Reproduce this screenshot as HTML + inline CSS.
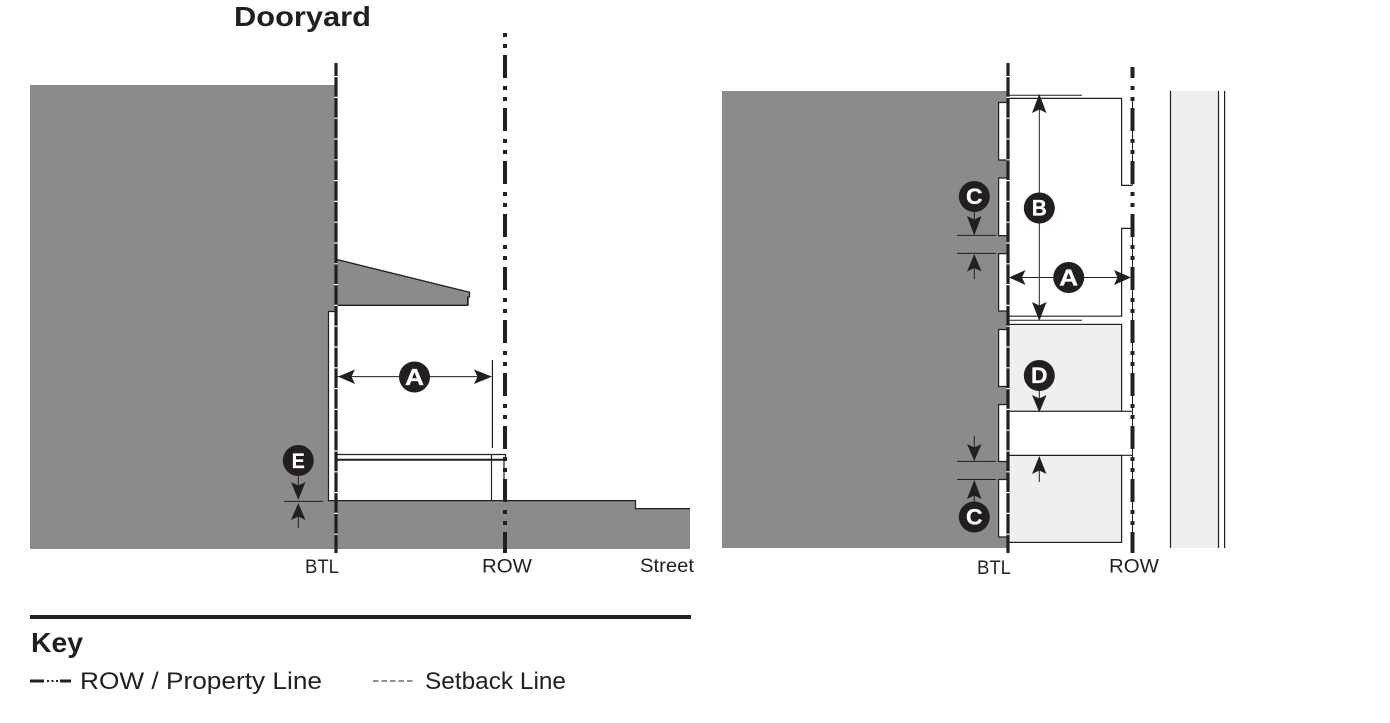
<!DOCTYPE html>
<html><head><meta charset="utf-8"><title>Dooryard</title>
<style>html,body{margin:0;padding:0;background:#fff}svg{display:block}text{font-family:"Liberation Sans",sans-serif;fill:#231f20}.w{fill:#fff;stroke:#fff;stroke-width:.3px}</style>
</head><body>
<svg width="1390" height="723" viewBox="0 0 1390 723" xmlns="http://www.w3.org/2000/svg">
<text x="234" y="26" font-size="28" font-weight="700" textLength="137" lengthAdjust="spacingAndGlyphs">Dooryard</text>

<!-- LEFT SECTION -->
<g fill="#8b8b8b">
<rect x="30" y="85" width="305" height="464"/>
<rect x="328" y="501" width="307" height="48"/>
<rect x="635" y="509" width="55" height="40"/>
<polygon points="335,259 469,292 469,305 335,305"/>
</g>
<rect x="328.5" y="311.5" width="7" height="189.5" fill="#fff"/>
<g stroke="#231f20" fill="none" stroke-width="1.2">
<path d="M328.5 501V311.5H336"/>
<path d="M328 500.6H635.5V508.6H690"/>
<path d="M336 259.3L469.5 292.3V297H467.7V306M336 305.3H468" stroke-width="1.3"/>
<path d="M336 454.5H505.5V460M491.5 455V500M504 460V500M492.4 360V448"/>
<path d="M336 459.8H505" stroke-width="2"/>
<path d="M337 376.6H490M298.3 470V497M298.3 505V528M284 501.4H323" stroke-width="1"/>
</g>
<!-- left lines -->
<line x1="336" y1="63" x2="336" y2="553" stroke="#231f20" stroke-width="3.2"/>
<line x1="336" y1="76" x2="336" y2="540" stroke="#fff" stroke-width="3.4" stroke-dasharray="1.2 19.6"/>
<line x1="505" y1="33" x2="505" y2="553" stroke="#231f20" stroke-width="4" stroke-dasharray="23 8 4 7 4 7" stroke-dashoffset="31"/>

<g fill="#231f20">
<path d="M338 376.6L355 369.5L351.5 376.6L355 384Z"/>
<path d="M492 376.6L474 369.5L477.5 376.6L474 384Z"/>
<path d="M298.3 500L291 482L298.3 485.5L305.5 482Z"/>
<path d="M298.3 503L291 520L298.3 516.5L305.5 520Z"/>
<circle cx="414.5" cy="377" r="15.5"/>
<circle cx="298.3" cy="460.5" r="15.5"/>
</g>
<text class="w" x="405" y="385" font-size="23" font-weight="700" textLength="19" lengthAdjust="spacingAndGlyphs">A</text>
<text class="w" x="291.8" y="468" font-size="21" font-weight="700" textLength="13" lengthAdjust="spacingAndGlyphs">E</text>

<!-- RIGHT PLAN -->
<rect x="722" y="91" width="285" height="457" fill="#8b8b8b"/>
<rect x="1170.5" y="91" width="48" height="457" fill="#efefef"/>
<g fill="#efefef" stroke="#231f20" stroke-width="1.2">
<rect x="1007" y="324.4" width="114.6" height="87"/>
<rect x="1007" y="455.4" width="114.6" height="87"/>
</g>
<rect x="998.5" y="411.5" width="134" height="43.5" fill="#fff"/>
<g fill="#fff" stroke="#231f20" stroke-width="1.2">
<path d="M1007 102.5H998.6V160H1007"/>
<path d="M1007 178H998.6V235.6H1007"/>
<path d="M1007 253.6H998.6V311H1007"/>
<path d="M1007 329.5H998.6V386.5H1007"/>
<path d="M1007 404.5H998.6V461.5H1007"/>
<path d="M1007 479.5H998.6V537H1007"/>
</g>
<g stroke="#231f20" fill="none" stroke-width="1.2">
<path d="M1007 98.4H1121.6V185.4H1132.5"/>
<path d="M1132.5 228.4H1121.6V316.2H1007"/>
<path d="M1007 411.3H1132.5M1007 455.3H1132.5"/>
<path d="M1170.5 91V548M1218.5 91V548M1224.6 91V548"/>
<path d="M1132.5 98V185M1132.5 228V540" stroke-width="1"/>
<path d="M1008 95.2H1082M1008 320.2H1082M1039.3 96V318M1010 277.5H1130M957 235.4H996M957 253.4H996M957 461.4H996M957 479.5H996M974.3 210V234M974.3 255V279M974.3 436V460M974.3 481V505M1039.3 385V410M1039.3 457V482" stroke-width="1"/>
</g>
<line x1="1008" y1="63" x2="1008" y2="553" stroke="#231f20" stroke-width="3.2"/>
<line x1="1008" y1="76" x2="1008" y2="540" stroke="#fff" stroke-width="3.4" stroke-dasharray="1.2 19.6"/>
<line x1="1132.5" y1="67" x2="1132.5" y2="553" stroke="#231f20" stroke-width="4" stroke-dasharray="23 8 4 7 4 7" stroke-dashoffset="12"/>

<g fill="#231f20">
<path d="M1039.3 94L1032 113L1039.3 109.5L1046.5 113Z"/>
<path d="M1039.3 321L1032 302L1039.3 305.5L1046.5 302Z"/>
<path d="M1009 277.5L1025.5 270L1022 277.5L1025.5 285Z"/>
<path d="M1131 277.5L1114 270L1117.5 277.5L1114 285Z"/>
<path d="M974.3 235.5L967 216L974.3 219.5L981.5 216Z"/>
<path d="M974.3 254L967 271.5L974.3 268L981.5 271.5Z"/>
<path d="M974.3 461L967 444L974.3 447.5L981.5 444Z"/>
<path d="M974.3 480L967 499L974.3 495.5L981.5 499Z"/>
<path d="M1039.3 412.5L1032 395L1039.3 398.5L1046.5 395Z"/>
<path d="M1039.3 456L1032 474L1039.3 470.5L1046.5 474Z"/>
<circle cx="1039.3" cy="208" r="15.5"/>
<circle cx="1068.7" cy="277.5" r="15.5"/>
<circle cx="974.3" cy="196.5" r="15.5"/>
<circle cx="974.3" cy="517" r="15.5"/>
<circle cx="1039.3" cy="375.5" r="15.5"/>
</g>
<g font-weight="700" font-size="22">
<text class="w" x="1031.8" y="215.5" textLength="15" lengthAdjust="spacingAndGlyphs">B</text>
<text class="w" x="1059.2" y="285.5" font-size="23" textLength="19" lengthAdjust="spacingAndGlyphs">A</text>
<text class="w" x="966" y="204" textLength="16.5" lengthAdjust="spacingAndGlyphs">C</text>
<text class="w" x="966" y="524.5" textLength="16.5" lengthAdjust="spacingAndGlyphs">C</text>
<text class="w" x="1031" y="383" textLength="16.5" lengthAdjust="spacingAndGlyphs">D</text>
</g>

<!-- LABELS -->
<g font-size="19">
<text x="305" y="573" textLength="34" lengthAdjust="spacingAndGlyphs">BTL</text>
<text x="482" y="572.5" textLength="50" lengthAdjust="spacingAndGlyphs">ROW</text>
<text x="640" y="572" textLength="54" lengthAdjust="spacingAndGlyphs">Street</text>
<text x="977" y="574" textLength="34" lengthAdjust="spacingAndGlyphs">BTL</text>
<text x="1109" y="572.5" textLength="50" lengthAdjust="spacingAndGlyphs">ROW</text>
</g>

<!-- KEY -->
<rect x="30" y="615" width="661" height="4" fill="#231f20"/>
<text x="31" y="652" font-size="28" font-weight="700" textLength="52" lengthAdjust="spacingAndGlyphs">Key</text>
<g stroke="#231f20">
<path d="M30 681H44M60 681H71" stroke-width="3"/>
<path d="M47 681H49M51.5 681H53.5M56 681H58" stroke-width="2"/>
<line x1="373" y1="681" x2="413" y2="681" stroke-width="1" stroke-dasharray="5.5 3"/>
</g>
<g font-size="24">
<text x="80" y="689" textLength="242" lengthAdjust="spacingAndGlyphs">ROW / Property Line</text>
<text x="425" y="689" textLength="141" lengthAdjust="spacingAndGlyphs">Setback Line</text>
</g>
</svg>
</body></html>
